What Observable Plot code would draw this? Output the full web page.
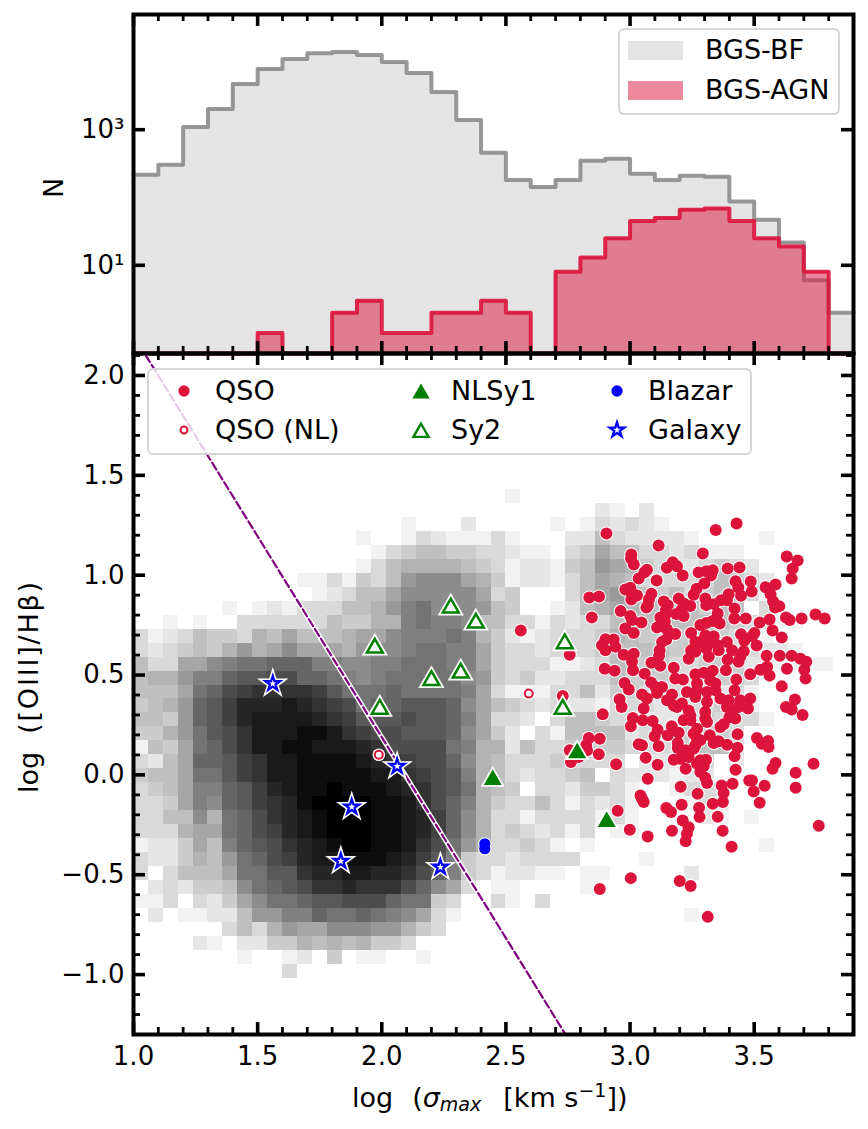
<!DOCTYPE html>
<html><head><meta charset="utf-8">
<script src="https://cdn.jsdelivr.net/npm/d3@7"></script>
<script src="https://cdn.jsdelivr.net/npm/@observablehq/plot@0.6"></script>
<style>
html,body{margin:0;padding:0;background:#fff;font-family:"DejaVu Sans",sans-serif;color:#000}
#page{position:relative;width:868px;height:1129px;overflow:hidden}
#page svg.plot{display:block;overflow:visible;position:absolute;left:0}
.legend{position:absolute;box-sizing:border-box;background:rgba(255,255,255,.8);border:2px solid rgba(204,204,204,.8);border-radius:6px}
.legend span{position:absolute;font-size:27px;line-height:30px;white-space:pre}
.legend i{position:absolute;display:block}
.legend svg{position:absolute;overflow:visible}
</style></head><body><div id="page"></div>
<script>
const binEdges=[1,1.1,1.2,1.3,1.4,1.5,1.6,1.7,1.8,1.9,2,2.1,2.2,2.3,2.4,2.5,2.6,2.7,2.8,2.9,3,3.1,3.2,3.3,3.4,3.5,3.6,3.7,3.8,3.9];
const bgsBF=[217,304,1100,2025,4720,7860,11000,13450,13970,12600,9950,6850,3590,1395,457,181,143,181,349,372,224,181,209,202,87,47,21.7,6,2];
const bgsAGN=[0,0,0,0,0,1,0,0,2,3,1,1,2,2,3,2,0,8,13,25,45,50,66,69,45,25,19,8,0];
const xMajor=[1,1.5,2,2.5,3,3.5];
const xMinor=[1.1,1.2,1.3,1.4,1.6,1.7,1.8,1.9,2.1,2.2,2.3,2.4,2.6,2.7,2.8,2.9,3.1,3.2,3.3,3.4,3.6,3.7,3.8];
const yMajor=[-1,-0.5,0,0.5,1,1.5,2];
const yMinor=[-1.2,-1.1,-0.9,-0.8,-0.7,-0.6,-0.4,-0.3,-0.2,-0.1,0.1,0.2,0.3,0.4,0.6,0.7,0.8,0.9,1.1,1.2,1.3,1.4,1.6,1.7,1.8,1.9,2.1];
const nTicks=[10,1000];
const divLineX=[1.0,2.76];
const divLineY=[2.2,-1.34];
// 2D histogram of BGS-BF: darkness level 0 (none) to 20 (densest); rows run from y=1.43 downward, columns from x=1.00 rightward
const cellW=0.06, cellH=0.07, gridTop=1.43;
const density=[
[0,0,0,0,0,0,0,0,0,0,0,0,0,0,0,0,0,0,0,0,0,0,0,0,0,1],
[0,0,0,0,0,0,0,0,0,0,0,0,0,0,0,0,0,0,0,0,0,0,0,0,0,0,0,0,0,0,0,2,1,0,2],
[0,0,0,0,0,0,0,0,0,0,0,0,0,0,0,0,0,0,1,0,0,0,2,0,0,0,0,0,1,0,1,3,2,3,2,1],
[0,0,0,0,0,0,0,0,0,0,0,0,0,0,0,1,0,0,1,3,2,1,1,1,3,1,0,0,0,2,2,5,3,2,2,2,2,1,0,0,0,0,1],
[0,0,0,0,0,0,0,0,0,0,0,0,0,0,0,0,1,3,4,5,5,4,4,3,3,2,1,1,0,3,4,7,5,5,3,3,2,3,1,1,1],
[0,0,0,0,0,0,0,0,0,0,0,0,0,0,0,1,3,5,6,6,6,6,5,4,3,1,2,2,1,4,5,8,7,6,4,3,2,2,3,4,3,2],
[0,0,0,0,0,0,0,0,0,0,0,1,1,3,1,4,3,5,8,9,9,9,7,6,4,1,2,2,1,3,5,7,6,5,3,3,3,3,3,5,4,3,2],
[0,0,0,0,0,0,0,0,0,0,0,0,1,2,3,5,5,7,9,9,9,9,9,7,3,4,0,0,0,3,5,7,8,6,5,4,5,3,4,5,5,3,1],
[0,0,0,0,0,0,1,0,1,2,1,3,3,3,5,5,6,8,10,11,9,9,9,8,5,4,0,0,1,2,5,6,7,6,5,5,5,5,4,5,5,0,3],
[0,0,1,0,1,0,0,3,3,3,3,3,3,5,4,4,6,6,10,11,10,10,9,5,5,3,3,1,3,2,3,3,5,5,5,5,5,5,5,5,4,3,3,1,1],
[3,1,2,3,5,4,4,3,6,5,7,5,5,5,6,7,7,9,10,10,10,11,10,6,4,2,1,2,3,3,3,4,6,5,4,4,4,4,5,4,3,3,1],
[3,2,3,4,5,4,6,8,6,7,9,7,7,7,6,8,9,9,10,11,11,10,10,7,4,3,3,2,3,3,3,4,5,5,5,5,4,5,4,5,3,3,2,2,1],
[5,3,3,7,7,9,10,11,11,12,12,12,10,10,9,9,10,10,11,11,11,10,10,7,4,3,3,3,1,1,2,3,5,5,4,4,3,3,4,4,4,2,2,1,1,1,1],
[5,6,6,8,10,10,12,13,13,14,14,12,12,11,10,9,10,11,11,11,11,11,9,8,4,3,4,2,2,3,3,3,5,4,4,4,3,3,3,4,4,3],
[5,5,5,7,11,12,14,15,16,16,16,16,15,13,11,11,11,12,11,11,11,11,10,7,3,1,1,1,3,3,5,2,4,4,3,3,3,3,2,2,3,1],
[4,5,6,8,12,13,15,17,17,17,18,17,16,15,14,11,12,12,13,13,13,12,9,7,5,4,3,2,3,2,2,1,3,3,3,2,3,3,3,4,3,1],
[5,5,4,8,12,13,15,17,18,18,18,18,17,16,15,13,13,13,14,13,13,12,10,7,3,3,2,0,3,5,5,4,3,3,2,2,2,3,4,3,3,3,1],
[4,4,6,8,11,13,14,16,18,18,18,19,19,18,16,15,14,14,13,13,13,12,9,7,4,2,0,3,1,5,5,5,5,2,3,3,3,4,5,4,3],
[1,5,4,7,11,12,14,16,18,18,19,19,18,18,18,17,16,14,14,14,14,11,10,6,6,2,5,3,3,4,4,4,4,3,3,3,3,4,5,5,3],
[3,2,5,7,12,12,13,15,16,18,18,19,19,19,19,18,17,16,15,14,14,12,9,6,5,3,3,3,4,3,3,3,3,0,2,2,2,3,3,0,2],
[4,5,5,7,11,11,13,15,16,18,18,19,19,19,19,19,18,18,16,15,14,13,10,6,5,3,2,3,3,4,5,0,3,2,2,2,1,2,2],
[3,4,5,7,10,10,12,13,15,17,18,19,19,20,19,19,19,18,17,16,14,13,11,6,5,4,0,3,3,2,4,4,3,1,0,0,1,3,3,3],
[3,3,4,7,10,9,12,13,15,16,17,19,20,20,20,20,19,19,18,16,14,12,10,6,4,3,3,5,3,1,3,2,3,1,0,0,0,1,3,2],
[3,3,5,5,9,6,11,12,14,16,17,18,19,20,20,20,19,19,18,17,15,12,9,6,3,3,1,3,3,3,3,1,3,1,0,0,0,0,2,1,0,1],
[3,3,3,6,7,7,11,12,14,15,17,18,19,20,20,20,19,19,18,17,15,12,9,6,3,4,3,2,3,1,3,0,1,1],
[1,2,2,4,7,5,10,12,13,14,16,17,18,19,20,20,19,19,18,16,14,11,8,6,3,3,4,3,1,0,1,0,0,0,0,0,0,0,0,0,0,0,1],
[3,2,2,4,6,5,8,11,12,14,15,17,18,18,19,19,19,18,17,15,13,10,4,3,3,2,3,3,3,3,0,0,0,0,1],
[3,0,3,5,5,5,7,11,11,13,13,16,17,17,18,18,17,17,16,14,12,10,4,3,1,2,2,1,1,0,1,1,0,0,0,0,0,2],
[0,2,3,2,4,4,5,9,11,12,13,14,16,16,17,16,16,16,14,12,9,7,3,0,1,1,0,0,0,0,1],
[1,1,3,0,3,2,4,7,9,11,11,12,13,13,14,14,14,12,11,11,4,3,0,0,3,1,0,3],
[0,2,0,1,1,2,2,5,8,8,10,10,12,11,11,12,11,10,9,7,3,1,0,0,0,0,0,0,0,0,0,0,0,0,0,0,0,1],
[0,0,0,0,0,0,3,5,3,6,8,7,7,9,9,9,8,8,6,4,3],
[0,0,0,0,2,1,0,2,2,4,4,6,5,6,5,6,4,4,3],
[0,0,0,0,0,0,0,1,0,0,1,2,0,4,0,1,1,0,0,1],
[0,0,0,0,0,0,0,0,0,0,3]
];
const qsoX=[2.905,3.115,3.345,3.429,3.293,3.631,3.675,3.655,3.651,3.005,3.004,3.015,3.068,3.058,3.035,3.107,3.172,3.189,3.148,3.212,3.276,3.307,3.333,3.326,3.299,3.393,3.441,3.486,3.425,3.436,3.447,3.490,3.546,3.586,3.566,3.576,3.584,3.601,3.268,3.256,2.836,2.875,2.846,2.962,2.981,3.001,3.008,3.028,3.005,3.086,3.076,3.066,3.072,3.136,3.152,3.144,3.142,3.122,3.140,3.129,3.109,3.149,3.182,3.146,3.129,3.119,3.117,3.196,3.216,3.243,3.209,3.186,3.216,3.303,3.307,3.337,3.366,3.397,3.390,3.421,3.353,3.420,3.466,3.522,3.562,3.628,3.643,3.691,3.747,3.784,3.283,3.307,3.333,3.361,3.001,3.008,3.046,2.981,3.015,2.901,2.934,2.887,2.941,2.901,2.974,3.015,3.008,3.012,2.898,2.938,3.246,3.263,3.303,3.337,3.317,3.283,3.353,3.390,3.246,3.263,3.236,3.307,3.317,3.357,3.447,3.460,3.501,3.491,3.510,3.411,3.458,3.393,3.437,3.444,3.574,3.611,3.550,3.603,3.651,3.686,3.710,3.702,3.707,3.632,3.552,3.525,3.562,3.484,3.086,3.122,3.176,3.059,3.182,3.213,3.263,3.297,3.333,3.386,3.323,3.270,3.344,3.428,2.978,2.995,3.085,3.102,3.129,3.048,3.068,3.109,3.169,3.149,2.958,2.966,3.055,2.890,3.229,3.263,3.270,3.310,3.344,3.310,3.364,3.397,3.421,3.444,3.484,3.475,3.390,3.411,3.437,3.176,3.209,3.236,3.243,3.303,3.303,3.011,3.051,3.091,3.189,3.400,3.424,3.611,3.664,3.628,3.651,3.695,3.003,3.111,3.099,3.152,3.168,3.196,3.216,3.243,3.310,3.270,3.256,3.270,3.321,3.263,3.283,3.364,3.377,3.433,3.337,3.357,3.391,3.433,3.035,3.048,3.115,3.192,3.192,3.223,3.256,2.834,2.878,2.823,2.827,2.757,2.762,2.793,2.874,2.944,3.063,3.111,3.176,3.203,3.236,3.224,3.270,3.283,3.306,3.297,3.283,3.303,3.310,3.421,3.425,3.071,3.204,3.272,3.369,3.377,3.413,3.333,3.374,3.480,3.491,3.498,3.542,3.522,3.511,3.531,3.556,3.558,3.586,3.574,3.667,3.667,3.739,3.760,3.042,3.048,3.055,3.146,3.165,3.208,3.278,3.280,3.353,3.212,3.236,3.229,3.224,3.169,3.373,3.409,2.999,3.071,2.950,3.003,3.200,3.244,2.878,3.313,2.560,2.757,2.729];
const qsoY=[1.209,1.149,1.226,1.259,1.109,1.094,1.074,1.034,.983,1.104,1.084,1.054,1.027,1.015,.983,.973,1.065,1.045,1.037,.998,1.014,1.020,1.025,.998,.958,1.034,1.039,.968,.970,.938,.897,.918,.940,.953,.905,.870,.838,.845,.932,.902,.888,.893,.788,.820,.928,.937,.908,.898,.878,.907,.878,.838,.850,.868,.850,.825,.800,.788,.766,.750,.738,.728,.706,.678,.666,.624,.596,.883,.858,.846,.830,.805,.795,.883,.850,.855,.875,.905,.875,.833,.808,.783,.783,.763,.778,.788,.775,.783,.803,.783,.750,.761,.771,.758,.795,.775,.763,.733,.711,.679,.678,.649,.641,.624,.602,.607,.566,.524,.532,.521,.711,.666,.699,.694,.666,.666,.649,.666,.624,.616,.582,.633,.591,.624,.704,.671,.711,.694,.648,.624,.619,.577,.566,.591,.723,.688,.597,.597,.597,.582,.566,.527,.482,.532,.541,.527,.497,.504,.562,.547,.537,.507,.482,.477,.504,.511,.521,.524,.474,.457,.457,.477,.460,.427,.462,.440,.440,.402,.382,.410,.402,.374,.379,.340,.332,.303,.415,.390,.424,.415,.424,.365,.382,.374,.424,.374,.382,.332,.340,.323,.340,.348,.357,.323,.298,.315,.282,.285,.273,.270,.340,.287,.282,.444,.377,.340,.327,.300,.243,.226,.193,.198,.243,.211,.273,.273,.265,.231,.206,.181,.198,.148,.173,.240,.253,.203,.159,.168,.151,.136,.153,.148,.143,.160,.134,.123,.131,.185,.181,.148,.123,.123,.064,.089,.103,.053,.086,.051,.076,.081,.089,.031,.056,.073,.076,.044,.014,-.014,-.041,.093,.026,-.019,-.059,-.094,-.053,-.091,-.044,-.145,-.136,-.028,-.028,-.083,-.054,-.140,.185,.156,.170,.139,.059,.031,.011,-.064,.056,-.255,-.103,-.120,-.136,-.166,-.186,-.150,-.165,-.211,-.210,-.228,-.262,-.295,-.332,-.280,-.280,-.360,-.275,-.308,-.180,-.517,-.531,-.556,-.572,-.711,.723,.602,.395];
const qsoNlX=[2.592,1.988], qsoNlY=[.407,.101];
const sy2X=[2.278,2.379,1.972,2.200,2.318,1.992,2.737,2.729], sy2Y=[.85,.774,.649,.487,.524,.343,.671,.342];
const nlsy1X=[2.447,2.787,2.906], nlsy1Y=[-.011,.123,-.221];
const blazarX=[2.415,2.415], blazarY=[-.345,-.37];
const galaxyX=[1.561,1.879,1.835,2.062,2.236], galaxyY=[.457,-.161,-.432,.043,-.462];

const FONT='"DejaVu Sans"', CRIMSON="#dc143c", PAGE=document.getElementById("page");
const TICK_FONT=26, PANEL_W=720, TOP_H=339, MAIN_H=681;
const pts=(xs,ys)=>xs.map((x,i)=>({x,y:ys[i]}));
const fmt=d3.format(".1f");
const xDomain=[1,3.9];

function frameTicks(h,yM,ym,yFmt,withXText){
  const M=3.6,m=2.8,LM=12,Lm=7;
  const out=[
    Plot.ruleX(xMinor,{insetTop:h-Lm,stroke:"black",strokeWidth:m}),
    Plot.ruleX(xMinor,{insetBottom:h-Lm,stroke:"black",strokeWidth:m}),
    Plot.ruleX(xMajor,{insetTop:h-LM,stroke:"black",strokeWidth:M}),
    Plot.ruleX(xMajor,{insetBottom:h-LM,stroke:"black",strokeWidth:M}),
    Plot.ruleY(ym,{insetRight:PANEL_W-Lm,stroke:"black",strokeWidth:m}),
    Plot.ruleY(ym,{insetLeft:PANEL_W-Lm,stroke:"black",strokeWidth:m}),
    Plot.ruleY(yM,{insetRight:PANEL_W-LM,stroke:"black",strokeWidth:M}),
    Plot.ruleY(yM,{insetLeft:PANEL_W-LM,stroke:"black",strokeWidth:M}),
    Plot.axisY({anchor:"left",ticks:yM,tickSize:0,label:null,tickPadding:9,fontSize:TICK_FONT,fontFamily:FONT,tickFormat:yFmt})
  ];
  if(withXText) out.push(Plot.axisX({anchor:"bottom",ticks:xMajor,tickSize:0,label:null,tickPadding:12,fontSize:TICK_FONT,fontFamily:FONT,tickFormat:fmt}));
  out.push(Plot.frame({stroke:"black",strokeWidth:4}));
  return out;
}

// Top panel
const bins=bgsBF.map((n,i)=>({x1:binEdges[i],x2:binEdges[i+1],bf:n,agn:bgsAGN[i]}));
const yFloor=0.5;
const stepLine=a=>binEdges.map((x,i)=>({x,y:Math.max(i<a.length?a[i]:a[a.length-1],yFloor)}));
const topPlot=Plot.plot({
  width:868,height:353,marginLeft:133,marginRight:15,marginTop:14,marginBottom:0,
  style:{background:"transparent",overflow:"visible"},
  x:{domain:xDomain,axis:null},
  y:{type:"log",domain:[yFloor,50000],axis:null},
  marks:[
    Plot.rect(bins,{x1:"x1",x2:"x2",y1:yFloor,y2:"bf",fill:"#808080",fillOpacity:.21,shapeRendering:"crispEdges"}),
    Plot.line(stepLine(bgsBF),{x:"x",y:"y",curve:"step-after",stroke:"#808080",strokeOpacity:.8,strokeWidth:4}),
    Plot.rect(bins.filter(d=>d.agn>0),{x1:"x1",x2:"x2",y1:yFloor,y2:"agn",fill:CRIMSON,fillOpacity:.5,shapeRendering:"crispEdges"}),
    Plot.line(stepLine(bgsAGN),{x:"x",y:"y",curve:"step-after",stroke:CRIMSON,strokeOpacity:.9,strokeWidth:4}),
    ...frameTicks(TOP_H,nTicks,[],d=>d===1000?"10³":"10¹",false)
  ]
});
topPlot.style.top="0px";
PAGE.appendChild(topPlot);

// Bottom panel
const cells=density.flatMap((row,r)=>row.map((v,c)=>({x1:1+c*cellW,x2:1+(c+1)*cellW,y2:gridTop-r*cellH,y1:gridTop-(r+1)*cellH,v}))).filter(d=>d.v>0);
const lineData=pts(divLineX,divLineY);
const mainPlot=Plot.plot({
  width:868,height:776,marginLeft:133,marginRight:15,marginTop:0,marginBottom:95,
  style:{background:"transparent",overflow:"visible"},
  x:{domain:xDomain,axis:null},
  y:{domain:[-1.3,2.11],axis:null},
  color:{type:"linear",domain:[0,20],range:["#ffffff","#000000"]},
  marks:[
    Plot.rect(cells,{x1:"x1",x2:"x2",y1:"y1",y2:"y2",fill:"v",shapeRendering:"crispEdges"}),
    Plot.line(lineData,{x:"x",y:"y",stroke:"white",strokeWidth:5,clip:true}),
    Plot.line(lineData,{x:"x",y:"y",stroke:"purple",strokeWidth:2.2,strokeDasharray:"8,3.5",clip:true}),
    Plot.dot(pts(qsoX,qsoY),{x:"x",y:"y",r:7,fill:"white"}),
    Plot.dot(pts(qsoX,qsoY),{x:"x",y:"y",r:6,fill:CRIMSON}),
    Plot.dot(pts(qsoNlX,qsoNlY),{x:"x",y:"y",r:6.3,fill:"white"}),
    Plot.dot(pts(qsoNlX,qsoNlY),{x:"x",y:"y",r:4,fill:"white",stroke:CRIMSON,strokeWidth:2}),
    Plot.dot(pts(blazarX,blazarY),{x:"x",y:"y",r:6.6,fill:"white"}),
    Plot.dot(pts(blazarX,blazarY),{x:"x",y:"y",r:5.6,fill:"blue"}),
    Plot.dot(pts(nlsy1X,nlsy1Y),{x:"x",y:"y",r:7.8,symbol:"triangle",fill:"green",stroke:"white",strokeWidth:1.8,dy:2.7}),
    Plot.dot(pts(sy2X,sy2Y),{x:"x",y:"y",r:5.9,symbol:"triangle",fill:"white",stroke:"white",strokeWidth:6,dy:2.7}),
    Plot.dot(pts(sy2X,sy2Y),{x:"x",y:"y",r:5.9,symbol:"triangle",fill:"white",stroke:"green",strokeWidth:2.5,dy:2.7}),
    Plot.dot(pts(galaxyX,galaxyY),{x:"x",y:"y",r:4.6,symbol:"star",fill:"white",stroke:"white",strokeWidth:5.5}),
    Plot.dot(pts(galaxyX,galaxyY),{x:"x",y:"y",r:4.6,symbol:"star",fill:"white",stroke:"blue",strokeWidth:2.3}),
    ...frameTicks(MAIN_H,yMajor,yMinor,fmt,true)
  ]
});
mainPlot.style.top="353px";
PAGE.appendChild(mainPlot);

// Axis titles (real text with mixed styling)
const title=(svg,attrs)=>{const t=d3.select(svg).append("text").attr("font-family",FONT).attr("font-size",27).attr("fill","black").attr("text-anchor","start").style("white-space","pre");for(const k in attrs)t.attr(k,attrs[k]);return t;};
title(topPlot,{transform:"translate(63,188) rotate(-90)","text-anchor":"middle"}).text("N");
const yt=title(mainPlot,{transform:"translate(38,440) rotate(-90)"});
yt.append("tspan").text("log");
yt.append("tspan").attr("dx",18).attr("letter-spacing",1.8).text("([OIII]/Hβ)");
const xt=title(mainPlot,{x:352,y:754});
xt.append("tspan").text("log");
xt.append("tspan").attr("dx",19).text("(");
xt.append("tspan").attr("font-style","italic").text("σ");
xt.append("tspan").attr("font-style","italic").attr("font-size",19).attr("dy",4).text("max");
xt.append("tspan").attr("dy",-4).attr("dx",22).text("[km s");
xt.append("tspan").attr("font-size",19).attr("dy",-10).text("−1");
xt.append("tspan").attr("dy",10).text("])");

// Legends
function legend(left,topPx,w,h,items){
  const L=document.createElement("div");L.className="legend";
  L.style.cssText=`left:${left}px;top:${topPx}px;width:${w}px;height:${h}px`;
  for(const it of items){
    const s=document.createElement("span");s.textContent=it.label;s.style.left=(it.tx-left-2)+"px";s.style.top=(it.cy-topPx-2-15)+"px";L.appendChild(s);
    if(it.swatch){
      const b=document.createElement("i");b.style.cssText=`left:${it.mx-left-2}px;top:${it.cy-topPx-2-9.5}px;width:55px;height:19px;background:${it.swatch}`;L.appendChild(b);
    }else{
      const S=d3.create("svg").attr("width",30).attr("height",30).style("left",(it.mx-left-2-15)+"px").style("top",(it.cy-topPx-2-15)+"px");
      S.append("path").attr("transform",`translate(15,${15+(it.dy||0)})`).attr("d",d3.symbol(it.sym,it.size)())
        .attr("fill",it.fill).attr("stroke",it.stroke||"none").attr("stroke-width",it.sw||0);
      L.appendChild(S.node());
    }
  }
  PAGE.appendChild(L);
}
legend(618,28,222,87,[
  {label:"BGS-BF",tx:705,cy:50,mx:628,swatch:"rgba(128,128,128,.21)"},
  {label:"BGS-AGN",tx:705,cy:90,mx:628,swatch:"rgba(220,20,60,.5)"}
]);
legend(147,368,605,87,[
  {label:"QSO",tx:215,cy:391,mx:184,sym:d3.symbolCircle,size:100,fill:CRIMSON},
  {label:"QSO (NL)",tx:215,cy:430,mx:184,sym:d3.symbolCircle,size:38,fill:"white",stroke:CRIMSON,sw:2},
  {label:"NLSy1",tx:451,cy:391,mx:421,sym:d3.symbolTriangle,size:130,fill:"green",dy:2.5},
  {label:"Sy2",tx:451,cy:430,mx:421,sym:d3.symbolTriangle,size:100,fill:"white",stroke:"green",sw:2.4,dy:2.5},
  {label:"Blazar",tx:648,cy:391,mx:617,sym:d3.symbolCircle,size:100,fill:"blue"},
  {label:"Galaxy",tx:648,cy:430,mx:617,sym:d3.symbolStar,size:65,fill:"white",stroke:"blue",sw:2.4}
]);
</script></body></html>
